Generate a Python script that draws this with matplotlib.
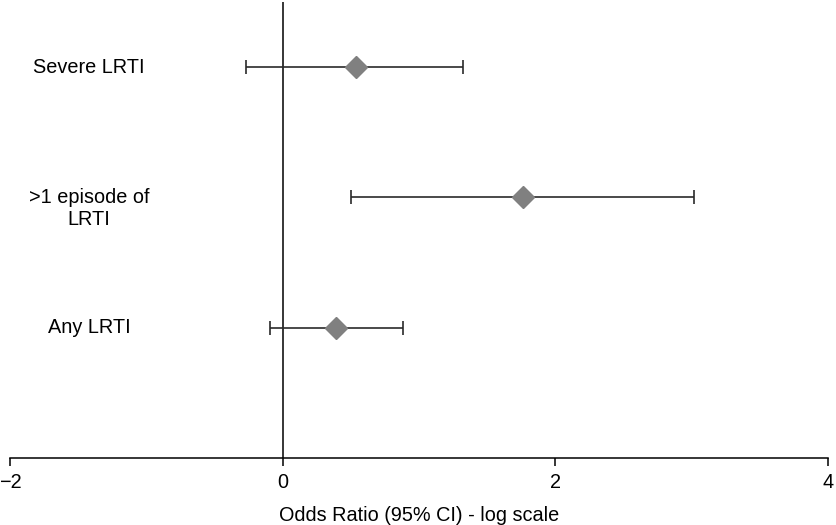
import matplotlib
matplotlib.use("Agg")
import matplotlib.pyplot as plt

labels = ["Any LRTI", ">1 episode of\nLRTI", "Severe LRTI"]
positions = [1, 2, 3]
estimates = [0.39, 1.76, 0.535]
lower = [-0.095, 0.505, -0.27]
upper = [0.88, 3.02, 1.325]
xticks = [-2, 0, 2, 4]

plt.rcParams['font.family'] = ['Liberation Sans', 'DejaVu Sans']
FS = 14.3

fig = plt.figure(figsize=(8.37, 5.25), dpi=100)
ax = fig.add_axes([0.012, 0.128, 0.977, 0.868])

for y, e, lo, hi in zip(positions, estimates, lower, upper):
    ax.errorbar([e], [y], xerr=[[e - lo], [hi - e]], fmt='none', ecolor='#2a2a2a',
                elinewidth=1.2, capsize=5, capthick=1.2, zorder=2)
    ax.plot([e], [y], marker='D', markersize=11, color='#808080', zorder=3, linestyle='none')

ax.axvline(0, color='black', linewidth=1.1, zorder=1)

for y, lab in zip(positions, labels):
    for i, line in enumerate(lab.split('\n')):
        ax.annotate(line, xy=(-1.42, y), xytext=(0, -22 * i), textcoords='offset pixels',
                    ha='center', va='center', fontsize=FS)

ax.set_xlim(-2, 4)
ax.set_ylim(0, 3.5)
ax.set_xticks(xticks)
ax.set_xticklabels([str(t).replace('-', '\u2212') for t in xticks], fontsize=FS)
ax.set_yticks([])
for s in ['left', 'right', 'top']:
    ax.spines[s].set_visible(False)
ax.spines['bottom'].set_linewidth(1.1)
ax.tick_params(axis='x', length=6, width=1.1, pad=5)
ax.set_xlabel("Odds Ratio (95% CI) - log scale", fontsize=FS, labelpad=10)

fig.savefig("out.png", dpi=100)
